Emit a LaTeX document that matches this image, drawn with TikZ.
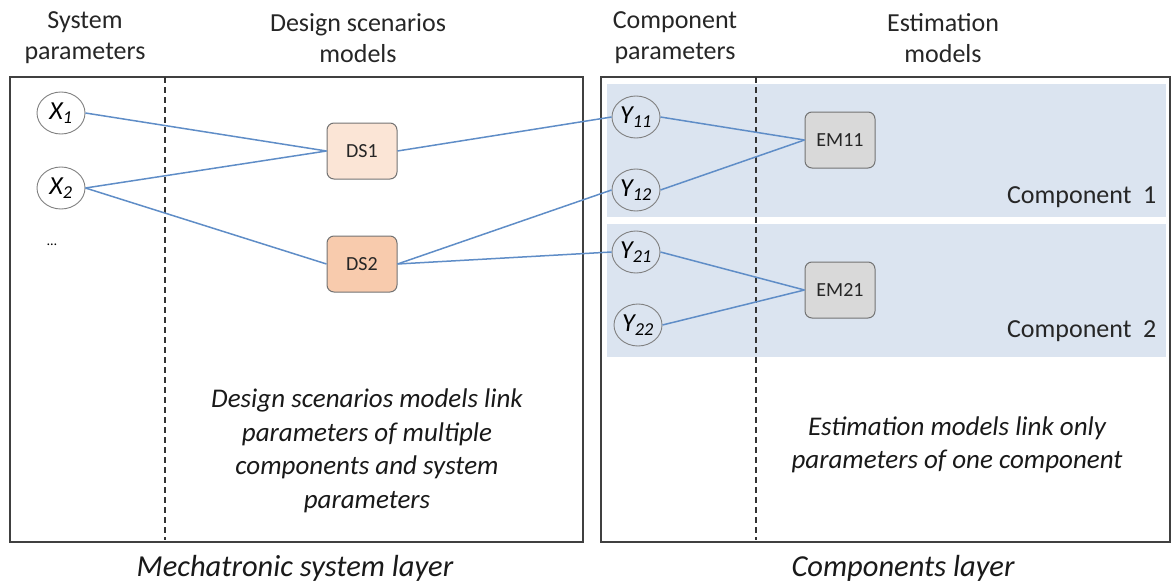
\documentclass[tikz,border=0pt]{standalone}
\usepackage{fontspec}
\setmainfont{Carlito}
\usepackage{xcolor}
\usepackage{tikz}
\usetikzlibrary{shapes.geometric, positioning}

\definecolor{linkblue}{RGB}{95,141,199}
\definecolor{compblue}{RGB}{219,228,240}
\definecolor{dslight}{RGB}{251,229,214}
\definecolor{dsdark}{RGB}{248,203,173}
\definecolor{emgray}{RGB}{217,217,217}

\begin{document}
\begin{tikzpicture}[
        x=1pt, y=-1pt,
        node distance=35pt,
        % Cadres des couches
        layer/.style={
            rectangle,
            draw=black!75,
            line width=1.6pt,
            anchor=north west,
            minimum height=465pt,
            inner sep=0pt
        },
        % Bandes des composants
        compband/.style={
            rectangle,
            fill=compblue,
            anchor=north west,
            minimum width=559pt,
            minimum height=133pt,
            inner sep=0pt
        },
        % Paramètres
        param/.style={
            ellipse,
            draw=black!50,
            line width=0.9pt,
            minimum width=48pt,
            minimum height=42pt,
            inner sep=0pt,
            font=\fontsize{26}{26}\selectfont\itshape
        },
        % Modèles
        model/.style={
            rectangle,
            rounded corners=7pt,
            draw=black!55,
            line width=1pt,
            minimum width=70pt,
            minimum height=56pt,
            font=\fontsize{20}{20}\selectfont,
            text=black!85
        },
        headtext/.style={
            align=center,
            font=\fontsize{26}{31}\selectfont,
            text=black!85
        },
        notetext/.style={
            align=center,
            font=\fontsize{27}{33.5}\selectfont\itshape,
            text=black!90
        },
        layertext/.style={
            font=\fontsize{30.5}{30.5}\selectfont\itshape,
            text=black!90
        },
        % Liens et séparateurs
        link/.style={draw=linkblue, line width=1.5pt},
        divider/.style={draw=black!80, line width=1.3pt, dash pattern=on 6pt off 4pt}
    ]
    \useasboundingbox (0,0) rectangle (1172,586);

    % --- COUCHES ---
    \node [layer, minimum width=573pt] (syslayer) at (9,76) {};
    \node [layer, minimum width=569pt] (complayer) at (600,76) {};
    \node [compband] (comp1) at (607,84) {};
    \node [compband] (comp2) at (607,224) {};
    \draw [divider] (165,77) -- (165,540);
    \draw [divider] (756,77) -- (756,540);

    % --- TITRES ---
    \node [headtext] (sysparams) at (85,38) {System\\parameters};
    \node [headtext] (dsmodels) at (358,38) {Design scenarios\\models};
    \node [headtext] (compparams) at (675,38) {Component\\parameters};
    \node [headtext] (emmodels) at (943,38) {Estimation\\models};

    % --- PARAMÈTRES SYSTÈME ---
    \node [param, fill=white] (x1) at (61,113) {X\textsubscript{1}};
    \node [param, fill=white] (x2) at (61,188) {X\textsubscript{2}};
    \node [font=\fontsize{14}{14}\selectfont] (xdots) at (52,245) {\ldots};

    % --- MODÈLES DE SCÉNARIOS ---
    \node [model, fill=dslight] (ds1) at (362,151) {DS1};
    \node [model, fill=dsdark, below=56pt of ds1] (ds2) {DS2};

    % --- PARAMÈTRES COMPOSANTS ---
    \node [param] (y11) at (636,117) {Y\textsubscript{11}};
    \node [param] (y12) at (636,190) {Y\textsubscript{12}};
    \node [param] (y21) at (636,252) {Y\textsubscript{21}};
    \node [param] (y22) at (638,325) {Y\textsubscript{22}};

    % --- MODÈLES D'ESTIMATION ---
    \node [model, fill=emgray] (em11) at (840,140) {EM11};
    \node [model, fill=emgray, below=93pt of em11] (em21) {EM21};

    \node [headtext, anchor=east] (comp1label) at (1160,197) {Component\ \ 1};
    \node [headtext, anchor=east] (comp2label) at (1160,331) {Component\ \ 2};

    % --- TEXTES ---
    \node [notetext] (dsnote) at (367,451) {Design scenarios models link\\parameters of multiple\\components and system\\parameters};
    \node [notetext] (emnote) at (957,445) {Estimation models link only\\parameters of one component};
    \node [layertext] (syslabel) at (295,568) {Mechatronic system layer};
    \node [layertext] (complabel) at (903,568) {Components layer};

    % --- LIENS ---
    \draw [link] (x1.east) -- (ds1.west);
    \draw [link] (x2.east) -- (ds1.west);
    \draw [link] (x2.east) -- (ds2.west);
    \draw [link] (ds1.east) -- (y11.west);
    \draw [link] (ds2.east) -- (y12.west);
    \draw [link] (ds2.east) -- (y21.west);
    \draw [link] (y11.east) -- (em11.west);
    \draw [link] (y12.east) -- (em11.west);
    \draw [link] (y21.east) -- (em21.west);
    \draw [link] (y22.east) -- (em21.west);

    \end{tikzpicture}
\end{document}
